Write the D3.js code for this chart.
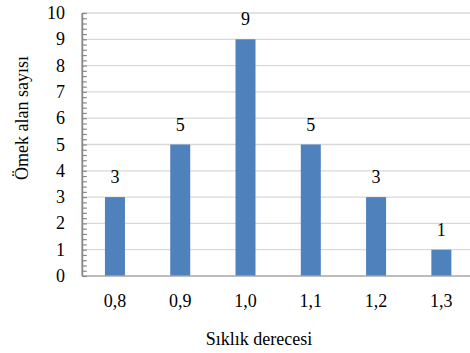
<!DOCTYPE html>
<html>
<head>
<meta charset="utf-8">
<script src="https://cdn.jsdelivr.net/npm/d3@7"></script>
<style>
  body { margin: 0; background: #fff; }
  svg text { font-family: "Liberation Serif", "Times New Roman", serif; fill: #000; }
</style>
</head>
<body>
<div id="chart"></div>
<script>
// data
const categories = ["0,8", "0,9", "1,0", "1,1", "1,2", "1,3"];
const counts = [3, 5, 9, 5, 3, 1];
const yTicks = [0, 1, 2, 3, 4, 5, 6, 7, 8, 9, 10];

const width = 470, height = 353;
const margin = {top: 13, right: -4, bottom: 77, left: 82.3};
const serif = "'Liberation Serif', 'Times New Roman', serif";

const svg = d3.select("#chart").append("svg")
    .attr("width", width)
    .attr("height", height)
    .style("font-family", serif);

const x = d3.scaleBand()
    .domain(categories)
    .range([margin.left, width - margin.right]);

const y = d3.scaleLinear()
    .domain([0, 10])
    .range([height - margin.bottom, margin.top]);

// gridlines
svg.append("g")
  .selectAll("line")
  .data(yTicks.slice(1))
  .join("line")
    .attr("x1", margin.left)
    .attr("x2", width)
    .attr("y1", d => y(d))
    .attr("y2", d => y(d))
    .attr("stroke", "#d9d9d9")
    .attr("stroke-width", 1.3);

// bars
const barW = 20;
svg.append("g")
  .selectAll("rect")
  .data(counts)
  .join("rect")
    .attr("x", (d, i) => x(categories[i]) + x.bandwidth() / 2 - barW / 2)
    .attr("y", d => y(d))
    .attr("width", barW)
    .attr("height", d => y(0) - y(d))
    .attr("fill", "#4f81bd");

// value labels
svg.append("g")
  .selectAll("text")
  .data(counts)
  .join("text")
    .attr("x", (d, i) => x(categories[i]) + x.bandwidth() / 2)
    .attr("y", d => y(d) - 14)
    .attr("text-anchor", "middle")
    .style("font-size", "18px")
    .text(d => d);

// x axis line
svg.append("line")
    .attr("x1", margin.left)
    .attr("x2", width)
    .attr("y1", y(0))
    .attr("y2", y(0))
    .attr("stroke", "#a6a6a6")
    .attr("stroke-width", 1.5);

// y axis with minor ticks pointing inwards
const yMinor = svg.append("g")
    .attr("transform", `translate(${margin.left},0)`)
    .call(d3.axisRight(y).ticks(50).tickSize(4.5).tickFormat(""));
yMinor.select(".domain").remove();
yMinor.selectAll(".tick line").attr("stroke", "#868686").attr("stroke-width", 1.2);

svg.append("line")
    .attr("x1", margin.left)
    .attr("x2", margin.left)
    .attr("y1", y(10))
    .attr("y2", y(0))
    .attr("stroke", "#868686")
    .attr("stroke-width", 1.8);

// y tick labels
svg.append("g")
  .selectAll("text")
  .data(yTicks)
  .join("text")
    .attr("x", 65)
    .attr("y", d => y(d) + 6)
    .attr("text-anchor", "end")
    .style("font-size", "18px")
    .text(d => d);

// x tick labels
svg.append("g")
  .selectAll("text")
  .data(categories)
  .join("text")
    .attr("x", d => x(d) + x.bandwidth() / 2)
    .attr("y", 306.5)
    .attr("text-anchor", "middle")
    .style("font-size", "18px")
    .text(d => d);

// axis titles
svg.append("text")
    .attr("x", 259)
    .attr("y", 345)
    .attr("text-anchor", "middle")
    .style("font-size", "18px")
    .text("Sıklık derecesi");

svg.append("text")
    .attr("transform", "translate(28,118) rotate(-90)")
    .attr("text-anchor", "middle")
    .style("font-size", "18px")
    .text("Ömek alan sayısı");
</script>
</body>
</html>
